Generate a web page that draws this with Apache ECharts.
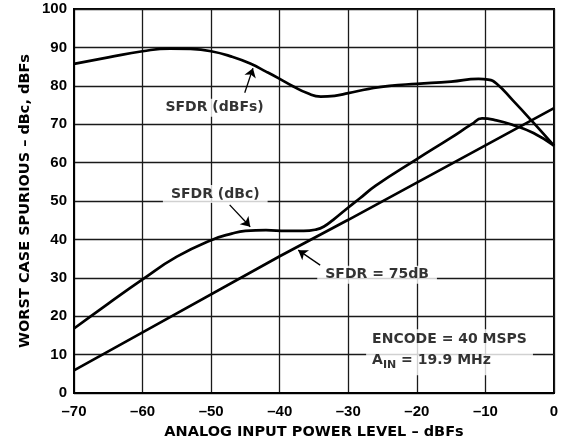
<!DOCTYPE html>
<html>
<head>
<meta charset="utf-8">
<script src="https://cdn.jsdelivr.net/npm/echarts@6/dist/echarts.min.js"></script>
<style>
html,body{margin:0;padding:0;background:#fff;}
#chart{width:573px;height:439px;}
</style>
</head>
<body>
<div id="chart"></div>
<script>
// ---- Data ----
const xTicks = [-70, -60, -50, -40, -30, -20, -10, 0];
const xTickLabels = ['–70', '–60', '–50', '–40', '–30', '–20', '–10', '0'];
const yTicks = [0, 10, 20, 30, 40, 50, 60, 70, 80, 90, 100];

// SFDR (dBFs)
const sfdrDbfsX = [-70, -65, -60, -56, -53, -50, -47, -44.3, -42, -40, -38, -36, -34, -32, -30, -27, -24, -20, -15, -11, -9.6, -8.4, -6, -3, 0];
const sfdrDbfsY = [85.7, 87.4, 89.0, 89.7, 89.6, 89.0, 87.6, 85.8, 83.7, 81.8, 79.8, 78.1, 77.2, 77.4, 78.1, 79.2, 80.0, 80.5, 81.1, 81.8, 81.6, 80.6, 76.2, 70.4, 64.4];

// SFDR (dBc)
const sfdrDbcX = [-70, -65, -60, -55, -50, -47, -45, -42, -39, -36.5, -34.6, -33.6, -32.2, -30, -28.3, -26, -20, -15, -12, -10.5, -8.4, -6, -3, 0];
const sfdrDbcY = [16.8, 23.3, 29.6, 35.5, 39.8, 41.5, 42.2, 42.4, 42.2, 42.2, 42.6, 43.3, 45.1, 48.3, 50.7, 54.0, 60.9, 66.5, 70.0, 71.5, 71.0, 69.8, 67.7, 64.4];

// SFDR = 75dB reference line
const sfdr75X = [-70, -60, -40, -30, 0];
const sfdr75Y = [5.9, 15.8, 35.6, 45.1, 74.2];

// Annotation texts and anchor points (data coordinates)
const annoNames = ['SFDR (dBFs)', 'SFDR (dBc)', 'SFDR = 75dB'];
const annoX = [-49.5, -49.4, -25.8];
const annoY = [74.3, 51.8, 30.8];

// Arrows: start -> tip (data coordinates)
const arrowStartX = [-45.1, -47.3, -34.1];
const arrowStartY = [78.2, 49.0, 33.3];
const arrowTipX = [-43.9, -44.3, -37.3];
const arrowTipY = [84.6, 43.3, 37.2];

// Conditions text box
const condLine1 = 'ENCODE = 40 MSPS';
const condLine2Main = 'A';
const condLine2Sub = 'IN';
const condLine2Rest = ' = 19.9 MHz';
const condX = -27.4;
const condY = 10.6;

const xTitle = 'ANALOG INPUT POWER LEVEL – dBFs';
const yTitle = 'WORST CASE SPURIOUS – dBc, dBFs';

// ---- Build ----
const zip = (xs, ys) => xs.map((x, i) => [x, ys[i]]);
const FONT = '"DejaVu Sans", sans-serif';
const TICKFONT = '"Liberation Sans", Arial, sans-serif';

const chart = echarts.init(document.getElementById('chart'), null, {renderer: 'canvas'});

const curveStyle = {color: '#000', width: 2.7};

const option = {
  animation: false,
  backgroundColor: '#fff',
  grid: {
    left: 74, right: 19, top: 9, bottom: 46,
    containLabel: false, outerBoundsMode: 'none',
    show: true, borderColor: '#000', borderWidth: 2, backgroundColor: 'transparent'
  },
  xAxis: {
    type: 'value', min: -70, max: 0, interval: 10,
    name: xTitle, nameLocation: 'middle', nameGap: 32, nameMoveOverlap: false,
    nameTextStyle: {fontFamily: FONT, fontWeight: 'bold', fontSize: 14.5, color: '#000'},
    axisLine: {show: true, onZero: false, lineStyle: {color: '#000', width: 2}},
    axisTick: {show: false},
    axisLabel: {
      margin: 11, color: '#000', fontFamily: TICKFONT, fontWeight: 'bold', fontSize: 15,
      formatter: v => { const i = xTicks.indexOf(Math.round(v)); return i >= 0 ? xTickLabels[i] : ''; }
    },
    splitLine: {show: true, lineStyle: {color: '#1a1a1a', width: 1.3}}
  },
  yAxis: {
    type: 'value', min: 0, max: 100, interval: 10,
    name: yTitle, nameLocation: 'middle', nameGap: 41, nameRotate: 90, nameMoveOverlap: false,
    nameTextStyle: {fontFamily: FONT, fontWeight: 'bold', fontSize: 14.5, color: '#000'},
    axisLine: {show: true, onZero: false, lineStyle: {color: '#000', width: 2}},
    axisTick: {show: false},
    axisLabel: {
      margin: 7, color: '#000', fontFamily: TICKFONT, fontWeight: 'bold', fontSize: 15,
      formatter: v => (yTicks.indexOf(Math.round(v)) >= 0 ? String(v) : '')
    },
    splitLine: {show: true, lineStyle: {color: '#1a1a1a', width: 1.3}}
  },
  series: [
    {
      name: 'SFDR (dBFs)', type: 'line', data: zip(sfdrDbfsX, sfdrDbfsY),
      smooth: 0.5, showSymbol: false, symbol: 'none', lineStyle: curveStyle, z: 3
    },
    {
      name: 'SFDR (dBc)', type: 'line', data: zip(sfdrDbcX, sfdrDbcY),
      smooth: 0.5, showSymbol: false, symbol: 'none', lineStyle: curveStyle, z: 3
    },
    {
      name: 'SFDR = 75dB', type: 'line', data: zip(sfdr75X, sfdr75Y),
      smooth: false, showSymbol: false, symbol: 'none', lineStyle: curveStyle, z: 3
    },
    {
      name: 'annotations', type: 'scatter', symbolSize: 0, z: 4, silent: true,
      itemStyle: {color: '#000'},
      data: annoNames.map((n, i) => ({name: n, value: [annoX[i], annoY[i]]})),
      label: {
        show: true, position: 'inside', formatter: p => p.name,
        fontFamily: FONT, fontWeight: 'bold', fontSize: 14, color: '#000',
        backgroundColor: '#fff', padding: [2, 8, 2, 8]
      },
      markLine: {
        silent: true, symbol: ['none', 'arrow'], symbolSize: 9, z: 5,
        label: {show: false},
        itemStyle: {color: '#000'},
        lineStyle: {color: '#000', width: 1.3, type: 'solid'},
        data: arrowStartX.map((x, i) => [
          {coord: [x, arrowStartY[i]]},
          {coord: [arrowTipX[i], arrowTipY[i]]}
        ])
      }
    },
    {
      name: 'conditions', type: 'scatter', symbolSize: 0, z: 4, silent: true,
      data: [{name: 'cond', value: [condX, condY]}],
      label: {
        show: true, position: 'right', distance: 0,
        backgroundColor: '#fff', padding: [0, 6, 4, 6],
        formatter: '{n|' + condLine1 + '}\n{n|' + condLine2Main + '}{s|' + condLine2Sub + '}{n|' + condLine2Rest + '}',
        rich: {
          n: {fontFamily: FONT, fontWeight: 'bold', fontSize: 14, color: '#000', lineHeight: 21},
          s: {fontFamily: FONT, fontWeight: 'bold', fontSize: 11, color: '#000', lineHeight: 21, padding: [8, 0, 0, 0]}
        }
      }
    }
  ]
};
chart.setOption(option);
</script>
</body>
</html>
